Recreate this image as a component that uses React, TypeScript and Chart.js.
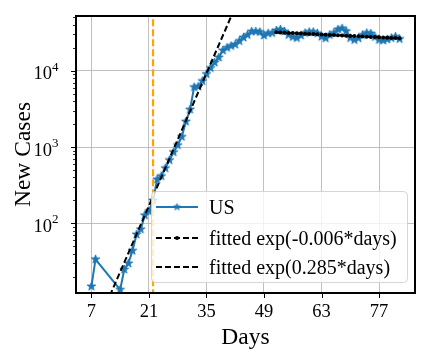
import React, { useEffect, useRef } from 'react';
import { Chart, registerables } from 'chart.js';

Chart.register(...registerables);

// ---------- data ----------
const US_DAYS = [7, 8, 14, 15, 16, 17, 18, 19, 20, 21, 22, 23, 24, 25, 26, 27, 28, 29, 30, 31, 32, 33, 34, 35, 36, 37, 38, 39, 40, 41, 42, 43, 44, 45, 46, 47, 48, 49, 50, 51, 52, 53, 54, 55, 56, 57, 58, 59, 60, 61, 62, 63, 64, 65, 66, 67, 68, 69, 70, 71, 72, 73, 74, 75, 76, 77, 78, 79, 80, 81, 82];
const US_CASES = [15, 34, 13.6, 25, 30, 44, 72, 84, 128, 145, 200, 378, 417, 530, 676, 860, 1060, 1365, 2160, 3100, 6100, 6200, 7330, 9050, 10850, 12800, 14900, 18400, 20000, 21100, 22000, 24500, 27200, 29400, 32700, 32700, 32200, 28900, 30900, 31200, 33600, 34700, 32700, 29400, 27700, 26800, 28900, 31200, 32200, 32200, 30900, 27900, 26600, 29400, 31200, 34700, 35900, 32900, 26800, 25300, 26600, 29400, 31200, 30700, 27700, 25300, 24900, 25800, 26800, 27900, 26000];

const FIT_DECAY_DAYS = [52, 53, 54, 55, 56, 57, 58, 59, 60, 61, 62, 63, 64, 65, 66, 67, 68, 69, 70, 71, 72, 73, 74, 75, 76, 77, 78, 79, 80, 81, 82];
const FIT_DECAY_VALUES = [31800, 31610, 31420, 31230, 31040, 30860, 30670, 30490, 30310, 30130, 29950, 29770, 29590, 29410, 29240, 29060, 28890, 28720, 28540, 28370, 28200, 28030, 27870, 27700, 27530, 27370, 27210, 27040, 26880, 26720, 26560];

const FIT_GROWTH_DAYS = [8, 45];
const FIT_GROWTH_VALUES = [4.2, 160000];

const VLINE_DAY = 22;

const X_TICKS = [7, 21, 35, 49, 63, 77];
const Y_MAJOR_TICKS = [100, 1000, 10000];
const Y_TICK_EXPONENTS = ['2', '3', '4'];
const X_MIN = 3.25;
const X_MAX = 85.75;
const Y_MIN = 12.3;
const Y_MAX = 52000;

const LEGEND_LABELS = ['US', 'fitted exp(-0.006*days)', 'fitted exp(0.285*days)'];
const X_TITLE = 'Days';
const Y_TITLE = 'New Cases';

// ---------- styles ----------
const BLUE = '#1f77b4';
const ORANGE = '#ffa500';
const GRID = '#b0b0b0';
const FONT = '"Liberation Serif", "Times New Roman", serif';

function makeStar(r: number, color: string): HTMLCanvasElement {
  const size = Math.ceil(r * 2 + 4);
  const c = document.createElement('canvas');
  c.width = size;
  c.height = size;
  const g = c.getContext('2d')!;
  const cx = size / 2;
  const cy = size / 2;
  g.beginPath();
  for (let i = 0; i < 10; i++) {
    const rad = i % 2 === 0 ? r : r * 0.381966;
    const a = -Math.PI / 2 + (i * Math.PI) / 5;
    const px = cx + rad * Math.cos(a);
    const py = cy + rad * Math.sin(a);
    if (i === 0) g.moveTo(px, py);
    else g.lineTo(px, py);
  }
  g.closePath();
  g.fillStyle = color;
  g.fill();
  g.strokeStyle = color;
  g.lineWidth = 1;
  g.stroke();
  return c;
}

function roundRect(ctx: CanvasRenderingContext2D, x: number, y: number, w: number, h: number, r: number) {
  ctx.beginPath();
  ctx.moveTo(x + r, y);
  ctx.lineTo(x + w - r, y);
  ctx.arcTo(x + w, y, x + w, y + r, r);
  ctx.lineTo(x + w, y + h - r);
  ctx.arcTo(x + w, y + h, x + w - r, y + h, r);
  ctx.lineTo(x + r, y + h);
  ctx.arcTo(x, y + h, x, y + h - r, r);
  ctx.lineTo(x, y + r);
  ctx.arcTo(x, y, x + r, y, r);
  ctx.closePath();
}

export default function App() {
  const ref = useRef<HTMLCanvasElement | null>(null);

  useEffect(() => {
    if (!ref.current) return;
    const star = makeStar(4.5, BLUE);
    const legendStar = makeStar(3.5, BLUE);

    const legendPlugin = {
      id: 'mplLegend',
      afterDatasetsDraw(chart: any) {
        const ctx: CanvasRenderingContext2D = chart.ctx;
        const a = chart.chartArea;
        const w = 256;
        const h = 91;
        const x0 = a.right - 8 - w;
        const y0 = a.bottom - 11 - h;
        ctx.save();
        roundRect(ctx, x0 + 0.5, y0 + 0.5, w, h, 4);
        ctx.fillStyle = 'rgba(255,255,255,0.8)';
        ctx.fill();
        ctx.strokeStyle = 'rgba(204,204,204,0.8)';
        ctx.lineWidth = 1;
        ctx.stroke();

        const rows = [y0 + 16, y0 + 47, y0 + 76];
        const hx0 = x0 + 5;
        const hx1 = x0 + 47;
        const tx = x0 + 58;
        // row 1: US
        ctx.setLineDash([]);
        ctx.strokeStyle = BLUE;
        ctx.lineWidth = 2;
        ctx.beginPath();
        ctx.moveTo(hx0, rows[0]);
        ctx.lineTo(hx1, rows[0]);
        ctx.stroke();
        ctx.drawImage(legendStar, (hx0 + hx1) / 2 - legendStar.width / 2, rows[0] - legendStar.height / 2);
        // row 2: dashed + dot
        ctx.strokeStyle = '#000';
        ctx.setLineDash([6, 3]);
        ctx.beginPath();
        ctx.moveTo(hx0, rows[1]);
        ctx.lineTo(hx1, rows[1]);
        ctx.stroke();
        ctx.setLineDash([]);
        ctx.fillStyle = '#000';
        ctx.beginPath();
        ctx.arc((hx0 + hx1) / 2, rows[1], 2, 0, Math.PI * 2);
        ctx.fill();
        // row 3: dashed
        ctx.setLineDash([6, 3]);
        ctx.beginPath();
        ctx.moveTo(hx0, rows[2]);
        ctx.lineTo(hx1, rows[2]);
        ctx.stroke();
        ctx.setLineDash([]);

        ctx.fillStyle = '#000';
        ctx.font = `20px ${FONT}`;
        ctx.textAlign = 'left';
        ctx.textBaseline = 'alphabetic';
        LEGEND_LABELS.forEach((t, i) => ctx.fillText(t, tx, rows[i] + 6.8));
        ctx.restore();
      },
    };

    const decorPlugin = {
      id: 'decor',
      afterDraw(chart: any) {
        const ctx: CanvasRenderingContext2D = chart.ctx;
        const a = chart.chartArea;
        const xs = chart.scales.x;
        const ys = chart.scales.y;
        ctx.save();
        ctx.setLineDash([]);
        ctx.strokeStyle = '#000';
        // x ticks
        ctx.lineWidth = 1;
        X_TICKS.forEach((v) => {
          const px = Math.round(xs.getPixelForValue(v)) + 0.5;
          ctx.beginPath();
          ctx.moveTo(px, a.bottom);
          ctx.lineTo(px, a.bottom + 5);
          ctx.stroke();
        });
        // y major ticks
        Y_MAJOR_TICKS.forEach((v) => {
          const py = Math.round(ys.getPixelForValue(v)) + 0.5;
          ctx.beginPath();
          ctx.moveTo(a.left - 5, py);
          ctx.lineTo(a.left, py);
          ctx.stroke();
        });
        // y minor ticks
        ctx.lineWidth = 0.8;
        for (let dec = 10; dec <= 10000; dec *= 10) {
          for (let m = 2; m <= 9; m++) {
            const v = m * dec;
            if (v < Y_MIN || v > Y_MAX) continue;
            const py = Math.round(ys.getPixelForValue(v)) + 0.5;
            ctx.beginPath();
            ctx.moveTo(a.left - 3, py);
            ctx.lineTo(a.left, py);
            ctx.stroke();
          }
        }
        // frame
        ctx.lineWidth = 2;
        ctx.strokeRect(a.left, a.top, a.right - a.left, a.bottom - a.top);

        // x tick labels
        ctx.fillStyle = '#000';
        ctx.textBaseline = 'alphabetic';
        ctx.textAlign = 'center';
        ctx.font = `18.5px ${FONT}`;
        X_TICKS.forEach((v) => {
          ctx.fillText(String(v), xs.getPixelForValue(v), a.bottom + 24);
        });
        // y tick labels
        ctx.textAlign = 'left';
        Y_MAJOR_TICKS.forEach((v, i) => {
          const py = ys.getPixelForValue(v);
          const e = Y_TICK_EXPONENTS[i];
          ctx.font = `13px ${FONT}`;
          const ew = ctx.measureText(e).width;
          const right = a.left - 17.5;
          ctx.fillText(e, right - ew, py);
          ctx.font = `18.5px ${FONT}`;
          const bw = ctx.measureText('10').width;
          ctx.fillText('10', right - ew - bw, py + 8.6);
        });
        // axis titles
        ctx.font = `23.5px ${FONT}`;
        ctx.textAlign = 'center';
        ctx.fillText(X_TITLE, (a.left + a.right) / 2, a.bottom + 51);
        ctx.save();
        ctx.translate(30, (a.top + a.bottom) / 2);
        ctx.rotate(-Math.PI / 2);
        ctx.fillText(Y_TITLE, 0, 0);
        ctx.restore();
        ctx.restore();
      },
    };

    const chart = new Chart(ref.current, {
      type: 'line',
      data: {
        datasets: [
          {
            label: 'vline',
            data: [
              { x: VLINE_DAY, y: 1 },
              { x: VLINE_DAY, y: 1e6 },
            ],
            borderColor: ORANGE,
            borderWidth: 2.2,
            borderDash: [7, 3],
            pointRadius: 0,
            order: 0,
          },
          {
            label: LEGEND_LABELS[1],
            data: FIT_DECAY_DAYS.map((d, i) => ({ x: d, y: FIT_DECAY_VALUES[i] })),
            borderColor: '#000',
            borderWidth: 2,
            borderDash: [6, 3],
            pointStyle: 'circle',
            pointRadius: 2,
            pointBorderWidth: 0,
            pointBackgroundColor: '#000',
            order: 1,
          },
          {
            label: LEGEND_LABELS[2],
            data: FIT_GROWTH_DAYS.map((d, i) => ({ x: d, y: FIT_GROWTH_VALUES[i] })),
            borderColor: '#000',
            borderWidth: 2,
            borderDash: [6, 3],
            pointRadius: 0,
            order: 2,
          },
          {
            label: LEGEND_LABELS[0],
            data: US_DAYS.map((d, i) => ({ x: d, y: US_CASES[i] })),
            borderColor: BLUE,
            borderWidth: 2,
            pointStyle: star as any,
            pointRadius: 4,
            order: 3,
          },
        ],
      },
      options: {
        responsive: false,
        devicePixelRatio: 1,
        animation: false,
        events: [],
        layout: { padding: { top: 16, right: 17, left: 0, bottom: 0 } },
        plugins: {
          legend: { display: false },
          tooltip: { enabled: false },
          title: { display: false },
        },
        scales: {
          x: {
            type: 'linear',
            min: X_MIN,
            max: X_MAX,
            afterBuildTicks: (s: any) => {
              s.ticks = X_TICKS.map((v) => ({ value: v }));
            },
            afterFit: (s: any) => {
              s.height = 67;
            },
            ticks: { display: false },
            grid: { color: GRID, lineWidth: 0.8, drawTicks: false },
            border: { display: false },
          },
          y: {
            type: 'logarithmic',
            min: Y_MIN,
            max: Y_MAX,
            afterBuildTicks: (s: any) => {
              s.ticks = Y_MAJOR_TICKS.map((v) => ({ value: v }));
            },
            afterFit: (s: any) => {
              s.width = 76;
            },
            ticks: { display: false },
            grid: { color: GRID, lineWidth: 0.8, drawTicks: false },
            border: { display: false },
          },
        },
      },
      plugins: [legendPlugin, decorPlugin],
    });

    return () => chart.destroy();
  }, []);

  return (
    <div style={{ position: 'fixed', left: 0, top: 0, width: 432, height: 360, background: '#fff' }}>
      <canvas ref={ref} width={432} height={360} style={{ display: 'block' }} />
    </div>
  );
}
